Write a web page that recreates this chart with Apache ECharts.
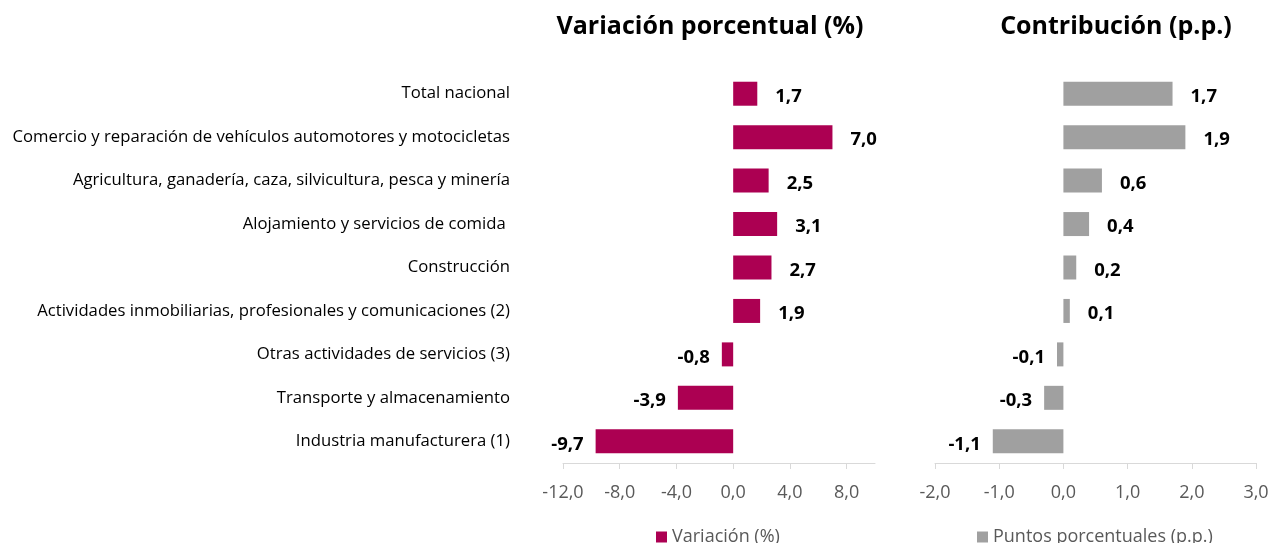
<!DOCTYPE html>
<html>
<head>
<meta charset="utf-8">
<script src="https://cdn.jsdelivr.net/npm/echarts@6/dist/echarts.min.js"></script>
<style>
html,body{margin:0;padding:0;background:#fff;}
#c{width:1273px;height:543px;}
</style>
</head>
<body>
<div id="c"></div>
<script>
const categories = [
  "Total nacional",
  "Comercio y reparación de vehículos automotores y motocicletas",
  "Agricultura, ganadería, caza, silvicultura, pesca y minería",
  "Alojamiento y servicios de comida ",
  "Construcción",
  "Actividades inmobiliarias, profesionales y comunicaciones (2)",
  "Otras actividades de servicios (3)",
  "Transporte y almacenamiento",
  "Industria manufacturera (1)"
];
const variacion = [1.7, 7.0, 2.5, 3.1, 2.7, 1.9, -0.8, -3.9, -9.7];
const contribucion = [1.7, 1.9, 0.6, 0.4, 0.2, 0.1, -0.1, -0.3, -1.1];
const ticksVar = [-12, -8, -4, 0, 4, 8];
const ticksCon = [-2, -1, 0, 1, 2, 3];

const FONT = '"Open Sans", "Noto Sans", sans-serif';
const fmt = v => v.toFixed(1).replace('.', ',');

function barData(arr) {
  return arr.map(v => ({
    value: v,
    label: {
      position: v < 0 ? 'left' : 'right',
      distance: v < 0 ? 12 : 18
    }
  }));
}

const chart = echarts.init(document.getElementById('c'));
chart.setOption({
  animation: false,
  title: [
    {text: 'Variación porcentual (%)', left: 705, top: 9, textAlign: 'center',
     textStyle: {fontFamily: FONT, fontSize: 25, fontWeight: 'bold', color: '#000'}},
    {text: 'Contribución (p.p.)', left: 1111, top: 9, textAlign: 'center',
     textStyle: {fontFamily: FONT, fontSize: 25, fontWeight: 'bold', color: '#000'}}
  ],
  legend: [
    {data: ['Variación (%)'], left: 656, top: 528, padding: 0, icon: 'rect', itemWidth: 11, itemHeight: 11,
     textStyle: {fontFamily: FONT, fontSize: 18, color: '#595959'}},
    {data: ['Puntos porcentuales (p.p.)'], left: 977, top: 528, padding: 0, icon: 'rect', itemWidth: 11, itemHeight: 11,
     textStyle: {fontFamily: FONT, fontSize: 18, color: '#595959'}}
  ],
  grid: [
    {left: 563, width: 312, top: 72, height: 391},
    {left: 935, width: 321, top: 72, height: 391}
  ],
  xAxis: [
    {gridIndex: 0, type: 'value', min: -12, max: 10, splitLine: {show: false},
     axisLine: {show: true, lineStyle: {color: '#d9d9d9'}},
     axisTick: {show: true, length: 6, customValues: ticksVar, lineStyle: {color: '#d9d9d9'}},
     axisLabel: {customValues: ticksVar, formatter: v => fmt(v), margin: 21,
       fontFamily: FONT, fontSize: 18, color: '#595959'}},
    {gridIndex: 1, type: 'value', min: -2, max: 3, interval: 1, splitLine: {show: false},
     axisLine: {show: true, lineStyle: {color: '#d9d9d9'}},
     axisTick: {show: true, length: 6, lineStyle: {color: '#d9d9d9'}},
     axisLabel: {formatter: v => fmt(v), margin: 21,
       fontFamily: FONT, fontSize: 18, color: '#595959'}}
  ],
  yAxis: [
    {gridIndex: 0, type: 'category', data: categories, inverse: true,
     axisLine: {show: false}, axisTick: {show: false},
     axisLabel: {margin: 53, fontFamily: FONT, fontSize: 16.7, color: '#000', padding: [3, 0, 0, 0]}},
    {gridIndex: 1, type: 'category', data: categories, inverse: true,
     axisLine: {show: false}, axisTick: {show: false}, axisLabel: {show: false}}
  ],
  series: [
    {name: 'Variación (%)', type: 'bar', xAxisIndex: 0, yAxisIndex: 0, barWidth: 24,
     itemStyle: {color: '#AC0052'}, data: barData(variacion),
     label: {show: true, formatter: p => fmt(p.value), fontFamily: FONT, fontSize: 18.5,
       fontWeight: 'bold', color: '#000', offset: [0, 3]}},
    {name: 'Puntos porcentuales (p.p.)', type: 'bar', xAxisIndex: 1, yAxisIndex: 1, barWidth: 24,
     itemStyle: {color: '#A0A0A0'}, data: barData(contribucion),
     label: {show: true, formatter: p => fmt(p.value), fontFamily: FONT, fontSize: 18.5,
       fontWeight: 'bold', color: '#000', offset: [0, 3]}}
  ]
});
</script>
</body>
</html>
